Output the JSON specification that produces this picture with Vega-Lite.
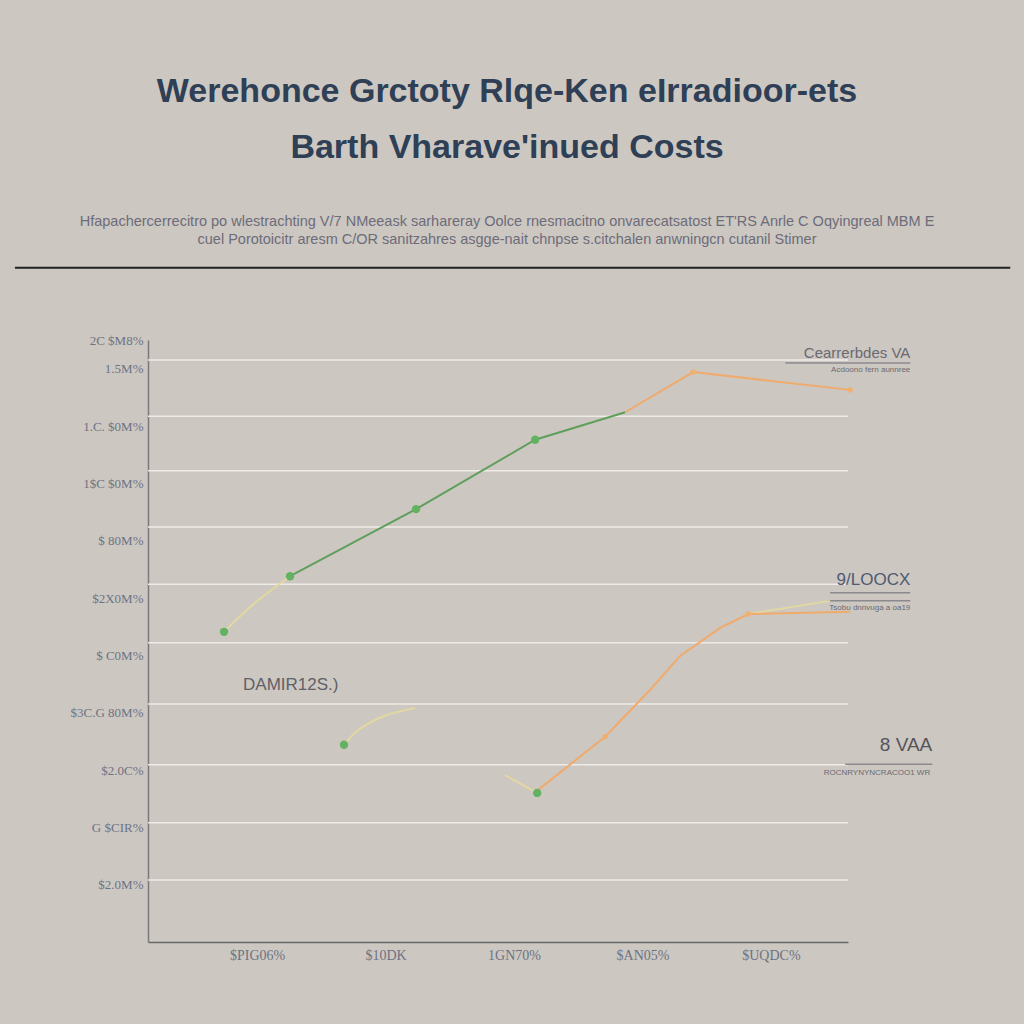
{
  "$schema": "https://vega.github.io/schema/vega-lite/v6.json",
  "width": 700,
  "height": 602,
  "autosize": {"type": "none"},
  "padding": {"left": 148, "top": 340, "right": 176, "bottom": 82},
  "background": "#cdc7c1",
  "config": {
    "view": {"stroke": null},
    "font": "Liberation Sans"
  },
  "title": {
    "text": ["Werehonce Grctoty Rlqe-Ken eIrradioor-ets", "Barth Vharave'inued Costs"],
    "subtitle": ["Hfapachercerrecitro po wlestrachting V/7 NMeeask sarhareray Oolce rnesmacitno onvarecatsatost ET'RS Anrle C Oqyingreal MBM E", "cuel Porotoicitr aresm C/OR sanitzahres asgge-nait chnpse s.citchalen anwningcn cutanil Stimer"],
    "anchor": "middle",
    "dx": 9,
    "font": "Liberation Sans",
    "fontSize": 34,
    "fontWeight": "bold",
    "lineHeight": 56,
    "color": "#2e3f56",
    "subtitleFont": "Liberation Sans",
    "subtitleFontSize": 14.5,
    "subtitleColor": "#6c6c7a",
    "subtitleLineHeight": 18,
    "subtitlePadding": 50,
    "offset": 20
  },
  "layer": [
    {
      "data": {"values": [{"y": 1.08}, {"y": 2.08}, {"y": 3.09}, {"y": 4.15}, {"y": 5.22}, {"y": 6.24}, {"y": 7.24}, {"y": 8.22}, {"y": 9.17}, {"y": 10.15}]},
      "mark": {"type": "rule", "color": "#eeebe7", "strokeWidth": 1.5},
      "encoding": {
        "y": {
          "field": "y", "type": "quantitative", "title": null,
          "scale": {"domain": [0, 10.5], "nice": false, "zero": false},
          "axis": {
            "values": [1, 2, 3, 4, 5, 6, 7, 8, 9, 10, 10.5],
            "grid": false, "ticks": false,
            "domainColor": "#7a7a7e", "domainWidth": 1.5,
            "labelColor": "#6c7384", "labelFont": "Liberation Serif", "labelFontSize": 13,
            "labelPadding": 5, "labelOverlap": false, "labelFlush": false,
            "labelExpr": "datum.value == 10.5 ? '2C $M8%' : datum.value == 10 ? '1.5M%' : datum.value == 9 ? '1.C. $0M%' : datum.value == 8 ? '1$C $0M%' : datum.value == 7 ? '$ 80M%' : datum.value == 6 ? '$2X0M%' : datum.value == 5 ? '$ C0M%' : datum.value == 4 ? '$3C.G 80M%' : datum.value == 3 ? '$2.0C%' : datum.value == 2 ? 'G $CIR%' : '$2.0M%'"
          }
        }
      }
    },
    {
      "data": {"values": [{"x": 0}]},
      "mark": {"type": "point", "opacity": 0},
      "encoding": {
        "x": {
          "field": "x", "type": "quantitative", "title": null,
          "scale": {"domain": [0.15, 5.6], "nice": false, "zero": false},
          "axis": {
            "values": [1, 2, 3, 4, 5],
            "grid": false, "ticks": false,
            "domainColor": "#66666a", "domainWidth": 1.5,
            "labelColor": "#6c7384", "labelFont": "Liberation Serif", "labelFontSize": 14,
            "labelPadding": 6, "labelOverlap": false, "labelFlush": false,
            "labelExpr": "datum.value == 1 ? '$PIG06%' : datum.value == 2 ? '$10DK' : datum.value == 3 ? '1GN70%' : datum.value == 4 ? '$AN05%' : '$UQDC%'"
          }
        },
        "y": {"datum": 0, "type": "quantitative", "title": null}
      }
    },
    {
      "data": {"values": [{"x": -0.886, "x2": 6.863, "y": 11.76}]},
      "mark": {"type": "rule", "color": "#222222", "strokeWidth": 2},
      "encoding": {
        "x": {"field": "x", "type": "quantitative", "title": null},
        "x2": {"field": "x2"},
        "y": {"field": "y", "type": "quantitative", "title": null}
      }
    },
    {
      "data": {"values": [
        {"x": 5.111, "x2": 6.085, "y": 10.10},
        {"x": 5.46, "x2": 6.085, "y": 6.09},
        {"x": 5.44, "x2": 6.085, "y": 5.95},
        {"x": 5.578, "x2": 6.256, "y": 3.10}
      ]},
      "mark": {"type": "rule", "color": "#8a8a8e", "strokeWidth": 1.5},
      "encoding": {
        "x": {"field": "x", "type": "quantitative", "title": null},
        "x2": {"field": "x2"},
        "y": {"field": "y", "type": "quantitative", "title": null}
      }
    },
    {
      "data": {"values": [
        {"seg": "A", "x": 0.742, "y": 5.41}, {"seg": "A", "x": 0.95, "y": 5.85}, {"seg": "A", "x": 1.256, "y": 6.38},
        {"seg": "D", "x": 1.676, "y": 3.44}, {"seg": "D", "x": 1.762, "y": 3.65}, {"seg": "D", "x": 2.23, "y": 4.08},
        {"seg": "E", "x": 2.93, "y": 2.91}, {"seg": "E", "x": 3.18, "y": 2.60},
        {"seg": "G", "x": 4.823, "y": 5.72}, {"seg": "G", "x": 5.46, "y": 5.95}
      ]},
      "mark": {"type": "line", "color": "#e2d8a2", "strokeWidth": 2, "interpolate": "monotone"},
      "encoding": {
        "x": {"field": "x", "type": "quantitative", "title": null},
        "y": {"field": "y", "type": "quantitative", "title": null},
        "detail": {"field": "seg"}
      }
    },
    {
      "data": {"values": [
        {"seg": "B", "x": 1.256, "y": 6.38}, {"seg": "B", "x": 2.237, "y": 7.55}, {"seg": "B", "x": 3.164, "y": 8.76}, {"seg": "B", "x": 3.865, "y": 9.24}
      ]},
      "mark": {"type": "line", "color": "#5f9f5c", "strokeWidth": 2},
      "encoding": {
        "x": {"field": "x", "type": "quantitative", "title": null},
        "y": {"field": "y", "type": "quantitative", "title": null},
        "detail": {"field": "seg"}
      }
    },
    {
      "data": {"values": [
        {"seg": "C", "x": 3.865, "y": 9.24}, {"seg": "C", "x": 4.394, "y": 9.94}, {"seg": "C", "x": 5.617, "y": 9.63},
        {"seg": "F", "x": 3.18, "y": 2.64}, {"seg": "F", "x": 3.709, "y": 3.58}, {"seg": "F", "x": 4.06, "y": 4.40}, {"seg": "F", "x": 4.293, "y": 4.99}, {"seg": "F", "x": 4.605, "y": 5.48}, {"seg": "F", "x": 4.823, "y": 5.72}, {"seg": "F", "x": 5.617, "y": 5.76}
      ]},
      "mark": {"type": "line", "color": "#f0aa6c", "strokeWidth": 2},
      "encoding": {
        "x": {"field": "x", "type": "quantitative", "title": null},
        "y": {"field": "y", "type": "quantitative", "title": null},
        "detail": {"field": "seg"}
      }
    },
    {
      "data": {"values": [
        {"x": 0.742, "y": 5.41}, {"x": 1.256, "y": 6.38}, {"x": 2.237, "y": 7.55}, {"x": 3.164, "y": 8.76}, {"x": 1.676, "y": 3.44}, {"x": 3.18, "y": 2.60}
      ]},
      "mark": {"type": "point", "filled": true, "color": "#62b262", "size": 70, "opacity": 1},
      "encoding": {
        "x": {"field": "x", "type": "quantitative", "title": null},
        "y": {"field": "y", "type": "quantitative", "title": null}
      }
    },
    {
      "data": {"values": [
        {"x": 3.709, "y": 3.58}, {"x": 5.617, "y": 9.63}, {"x": 4.394, "y": 9.94}, {"x": 4.823, "y": 5.72}
      ]},
      "mark": {"type": "point", "filled": true, "color": "#f0b070", "size": 30, "opacity": 1},
      "encoding": {
        "x": {"field": "x", "type": "quantitative", "title": null},
        "y": {"field": "y", "type": "quantitative", "title": null}
      }
    },
    {
      "data": {"values": [
        {"x": 6.085, "y": 10.27, "t": "Cearrerbdes VA"}
      ]},
      "mark": {"type": "text", "align": "right", "baseline": "middle", "fontSize": 15, "color": "#6a6a70", "font": "Liberation Sans"},
      "encoding": {
        "x": {"field": "x", "type": "quantitative", "title": null},
        "y": {"field": "y", "type": "quantitative", "title": null},
        "text": {"field": "t"}
      }
    },
    {
      "data": {"values": [
        {"x": 6.085, "y": 6.31, "t": "9/LOOCX"}
      ]},
      "mark": {"type": "text", "align": "right", "baseline": "middle", "fontSize": 17, "color": "#4d5a72", "font": "Liberation Sans"},
      "encoding": {
        "x": {"field": "x", "type": "quantitative", "title": null},
        "y": {"field": "y", "type": "quantitative", "title": null},
        "text": {"field": "t"}
      }
    },
    {
      "data": {"values": [
        {"x": 6.256, "y": 3.44, "t": "8 VAA"}
      ]},
      "mark": {"type": "text", "align": "right", "baseline": "middle", "fontSize": 19, "color": "#54545c", "font": "Liberation Sans"},
      "encoding": {
        "x": {"field": "x", "type": "quantitative", "title": null},
        "y": {"field": "y", "type": "quantitative", "title": null},
        "text": {"field": "t"}
      }
    },
    {
      "data": {"values": [
        {"x": 0.89, "y": 4.48, "t": "DAMIR12S.)"}
      ]},
      "mark": {"type": "text", "align": "left", "baseline": "middle", "fontSize": 17, "color": "#606068", "font": "Liberation Sans"},
      "encoding": {
        "x": {"field": "x", "type": "quantitative", "title": null},
        "y": {"field": "y", "type": "quantitative", "title": null},
        "text": {"field": "t"}
      }
    },
    {
      "data": {"values": [
        {"x": 6.085, "y": 9.98, "t": "Acdoono fern aunnree"},
        {"x": 6.085, "y": 5.83, "t": "Tsobu dnnvuga a oa19"},
        {"x": 6.24, "y": 2.95, "t": "ROCNRYNYNCRACOO1 WR"}
      ]},
      "mark": {"type": "text", "align": "right", "baseline": "middle", "fontSize": 8, "color": "#6a6a72", "font": "Liberation Sans"},
      "encoding": {
        "x": {"field": "x", "type": "quantitative", "title": null},
        "y": {"field": "y", "type": "quantitative", "title": null},
        "text": {"field": "t"}
      }
    }
  ]
}
